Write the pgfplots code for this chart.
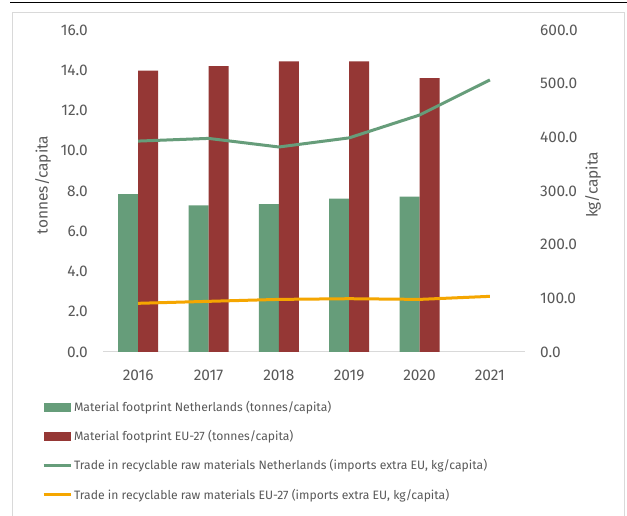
\documentclass[border=0pt]{standalone}
\usepackage{fontspec}
\setmainfont{Fira Sans}
\usepackage{pgfplots}
\pgfplotsset{compat=1.18}
\definecolor{nlgreen}{RGB}{102,157,122}
\definecolor{eured}{RGB}{149,55,53}
\definecolor{euorange}{RGB}{245,166,0}
\definecolor{txt}{RGB}{89,89,89}
\definecolor{framegray}{RGB}{217,217,217}

\pgfplotsset{
  base/.style={
    scale only axis, width=422bp, height=322bp,
    at={(103bp,164bp)}, anchor=south west,
    xmin=-0.5, xmax=5.5, ymin=0,
    xtick={0,...,5}, xticklabels={2016,2017,2018,2019,2020,2021},
    tick style={draw=none},
    ticklabel style={text=txt, font=\fontsize{15.5}{18}\selectfont},
    label style={text=txt, font=\fontsize{15.5}{18}\selectfont},
    y tick label style={/pgf/number format/fixed, /pgf/number format/fixed zerofill,
      /pgf/number format/precision=1, /pgf/number format/assume math mode=true, inner xsep=15bp},
    xticklabel style={yshift=-10.5bp},
  },
  barleg/.style={legend image code/.code={\fill[##1, draw=none] (0bp,-4.5bp) rectangle (27bp,4.5bp);}},
  lineleg/.style={legend image code/.code={\draw[##1] (0bp,0bp) -- (27bp,0bp);}},
}

\begin{document}
\begin{tikzpicture}[x=1bp,y=1bp]
\useasboundingbox (0,0) rectangle (627,516);
\fill[white] (0,0) rectangle (627,516);
\draw[black, line width=1bp] (10,513) -- (627,513);
\draw[framegray, line width=1bp] (12.5,-2) -- (12.5,503.5) -- (624,503.5) -- (624,-2);

\begin{axis}[base,
  ymax=16, ytick={0,2,...,16},
  axis y line*=left, axis x line*=bottom,
  x axis line style={framegray, line width=1bp, -},
  y axis line style={draw=none},
  ybar=0pt, bar width=20bp,
  ylabel={tonnes/capita},
  ylabel style={at={(axis description cs:-0.142,0.519)}, anchor=center},
]
\addplot[fill=nlgreen, draw=none] coordinates {(0,7.85) (1,7.29) (2,7.35) (3,7.62) (4,7.72)};
\addplot[fill=eured, draw=none] coordinates {(0,13.98) (1,14.20) (2,14.44) (3,14.44) (4,13.61)};
\end{axis}

\begin{axis}[base,
  ymax=600, ytick={0,100,...,600},
  axis y line*=right, axis x line=none,
  y axis line style={draw=none},
  ylabel={kg/capita},
  ylabel style={at={(axis description cs:1.161,0.519)}, anchor=center},
  legend cell align=left,
  legend style={at={(axis description cs:-0.145,-0.146)}, anchor=north west,
    draw=none, fill=none, text=txt, font=\fontsize{12.2}{15}\selectfont,
    row sep=13.5bp, inner sep=0pt},
]
\addlegendimage{barleg, fill=nlgreen}
\addlegendentry{Material footprint Netherlands (tonnes/capita)}
\addlegendimage{barleg, fill=eured}
\addlegendentry{Material footprint EU-27 (tonnes/capita)}
\addplot[lineleg, nlgreen, line width=3bp] coordinates {(0,393) (1,398) (2,382) (3,399) (4,441.5) (5,507)};
\addlegendentry{Trade in recyclable raw materials Netherlands (imports extra EU, kg/capita)}
\addplot[lineleg, euorange, line width=3bp] coordinates {(0,90.7) (1,94.4) (2,98) (3,99.3) (4,98) (5,103.7)};
\addlegendentry{Trade in recyclable raw materials EU-27 (imports extra EU, kg/capita)}
\end{axis}
\end{tikzpicture}
\end{document}
